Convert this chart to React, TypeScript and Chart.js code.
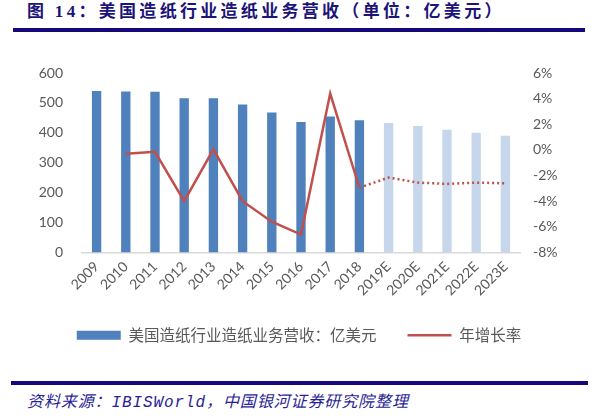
import React, { useEffect, useRef } from "react";
import { Chart, registerables } from "chart.js";

Chart.register(...registerables);

// years, "E" = forecast
const years = [
  "2009", "2010", "2011", "2012", "2013", "2014", "2015", "2016",
  "2017", "2018", "2019E", "2020E", "2021E", "2022E", "2023E",
];
// 美国造纸行业造纸业务营收（亿美元）
const revenue = [540, 538, 537, 516, 516, 495, 468, 436, 455, 442, 433, 423, 410, 400, 390];
// 年增长率（%）
const growth = [null, -0.3, -0.15, -4.0, 0.05, -4.0, -5.6, -6.6, 4.4, -2.95, -2.15, -2.55, -2.65, -2.55, -2.6];

const leftTicks = [0, 600, 100];
const rightTicks = [-8, 6, 2];

const BLUE = "#4F81BD";
const LIGHT = "#C6D7EC";
const RED = "#C0504D";
const GREY = "#595959";
const NAVY = "#14087A";

const App = () => {
  const chartRef = useRef<HTMLCanvasElement>(null);

  useEffect(() => {
    const ctx = chartRef.current!.getContext("2d")!;
    const firstForecast = years.findIndex((y) => y.endsWith("E"));

    const chart = new Chart(ctx, {
      type: "bar",
      data: {
        labels: years,
        datasets: [
          {
            type: "bar",
            label: "美国造纸行业造纸业务营收：亿美元",
            data: revenue,
            backgroundColor: years.map((y) => (y.endsWith("E") ? LIGHT : BLUE)),
            categoryPercentage: 1,
            barPercentage: 0.32,
            yAxisID: "y",
            order: 2,
          },
          {
            type: "line",
            label: "年增长率",
            data: growth,
            borderColor: RED,
            backgroundColor: RED,
            borderWidth: 2.5,
            pointRadius: 0,
            tension: 0,
            yAxisID: "y1",
            order: 1,
            segment: {
              borderDash: (c) => (c.p0DataIndex >= firstForecast - 1 ? [2, 3] : undefined),
            },
          },
        ],
      },
      options: {
        responsive: true,
        maintainAspectRatio: false,
        animation: false,
        layout: { padding: { top: 33, bottom: 10, left: 0, right: 0 } },
        plugins: {
          tooltip: { enabled: false },
          legend: {
            position: "bottom",
            labels: {
              usePointStyle: true,
              pointStyleWidth: 44,
              boxHeight: 9,
              padding: 31,
              color: GREY,
              font: { family: '"Noto Sans CJK SC", sans-serif', size: 15.5 },
              sort: (a, b) => a.datasetIndex - b.datasetIndex,
              generateLabels: (ch) =>
                ch.data.datasets.map((ds, i) => ({
                  text: ds.label as string,
                  datasetIndex: i,
                  fillStyle: i === 0 ? BLUE : RED,
                  strokeStyle: i === 0 ? BLUE : RED,
                  lineWidth: i === 0 ? 0 : 2.5,
                  pointStyle: i === 0 ? "rect" : "line",
                  fontColor: GREY,
                  hidden: false,
                })),
            },
          },
        },
        scales: {
          x: {
            grid: { display: false, drawTicks: false },
            border: { display: true, color: "#D9D9D9", width: 1.5 },
            ticks: {
              autoSkip: false,
              minRotation: 45,
              maxRotation: 45,
              padding: 6,
              color: GREY,
              font: { family: "Lato, sans-serif", size: 14 },
            },
            afterFit: (s) => {
              s.height = 44;
            },
          },
          y: {
            position: "left",
            min: leftTicks[0],
            max: leftTicks[1],
            grid: { display: false, drawTicks: false },
            border: { display: false },
            ticks: {
              stepSize: leftTicks[2],
              padding: 19,
              color: GREY,
              font: { family: "Lato, sans-serif", size: 14 },
            },
            afterFit: (s) => {
              s.width = 82;
            },
          },
          y1: {
            position: "right",
            min: rightTicks[0],
            max: rightTicks[1],
            grid: { display: false, drawTicks: false },
            border: { display: false },
            ticks: {
              stepSize: rightTicks[2],
              padding: 13,
              color: GREY,
              font: { family: "Lato, sans-serif", size: 14 },
              callback: (v) => `${v}%`,
            },
            afterFit: (s) => {
              s.width = 78;
            },
          },
        },
      },
    });

    return () => {
      chart.destroy();
    };
  }, []);

  return (
    <div
      style={{
        position: "fixed",
        left: 0,
        top: 0,
        width: 598,
        height: 420,
        background: "#fff",
        overflow: "hidden",
      }}
    >
      <div
        style={{
          position: "absolute",
          left: 27,
          top: 1,
          whiteSpace: "nowrap",
          color: "#1C1478",
          fontFamily: '"Liberation Serif", "Noto Sans CJK SC", serif',
          fontWeight: "bold",
          fontSize: 17,
          letterSpacing: 3.3,
          lineHeight: "22px",
        }}
      >
        图 14：美国造纸行业造纸业务营收（单位：亿美元）
      </div>
      <div style={{ position: "absolute", left: 13, top: 28, width: 572, height: 4, background: NAVY }} />
      <div style={{ position: "absolute", left: 0, top: 40, width: 598, height: 323 }}>
        <canvas ref={chartRef} />
      </div>
      <div style={{ position: "absolute", left: 11, top: 381, width: 577, height: 4, background: NAVY }} />
      <div
        style={{
          position: "absolute",
          left: 27,
          top: 392,
          whiteSpace: "nowrap",
          color: "#2A1E96",
          fontFamily: '"Liberation Mono", "Noto Sans CJK SC", monospace',
          fontStyle: "italic",
          fontSize: 16,
          letterSpacing: 0.9,
          lineHeight: "22px",
        }}
      >
        资料来源：IBISWorld，中国银河证券研究院整理
      </div>
    </div>
  );
};

export default App;
